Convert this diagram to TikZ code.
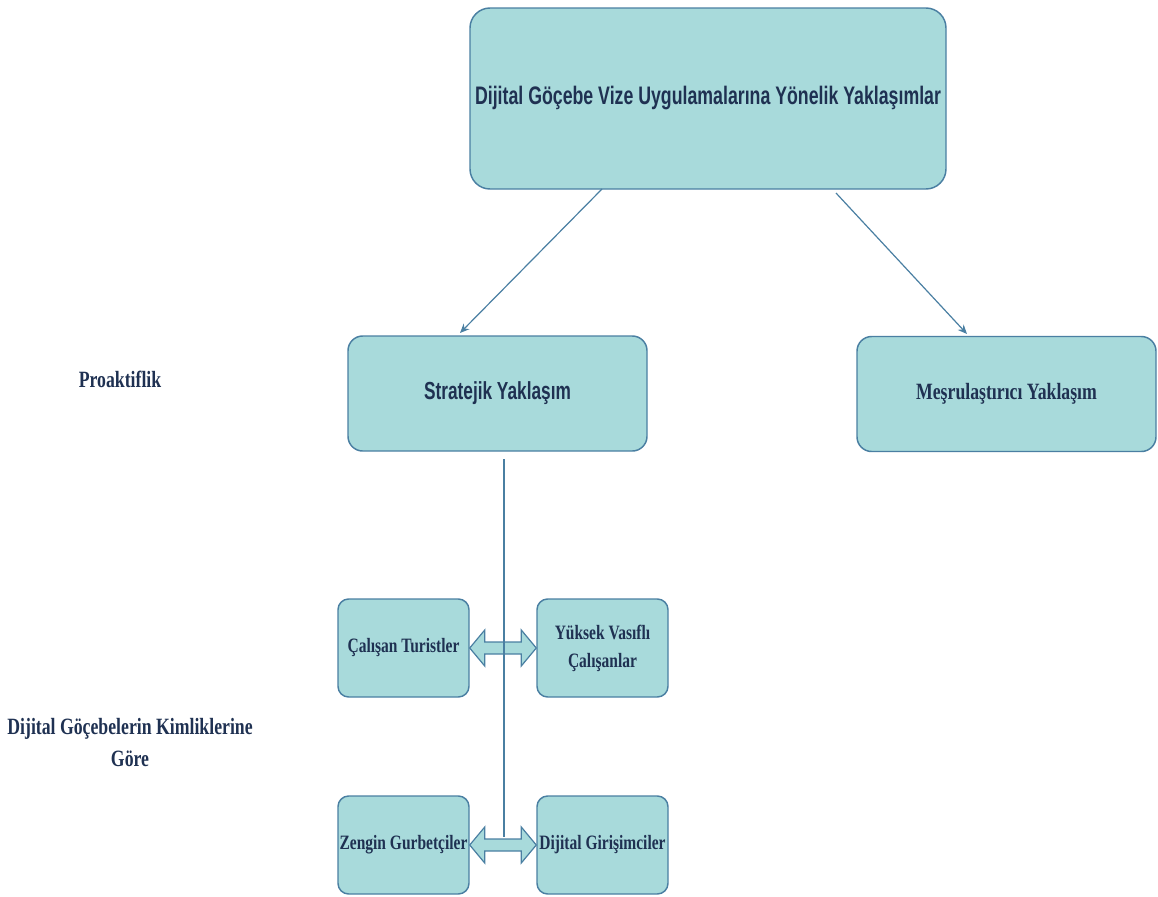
\documentclass[tikz,border=0pt]{standalone}
\usepackage{fontspec}
\usetikzlibrary{calc,arrows.meta}
\newfontfamily\narrowsans[FakeStretch=0.7]{Liberation Sans}
\newfontfamily\narrowserif[FakeStretch=0.76]{Liberation Serif}
\definecolor{boxfill}{HTML}{A8DADB}
\definecolor{boxline}{HTML}{4A7FA2}
\definecolor{txt}{HTML}{1F3152}
\tikzset{
  bigbox/.style={draw=boxline, line width=1.1pt, fill=boxfill, rounded corners=15pt, text=txt, align=center, inner sep=0pt},
  midbox/.style={draw=boxline, line width=1.1pt, fill=boxfill, rounded corners=11pt, text=txt, align=center, inner sep=0pt, minimum width=299*0.75pt, minimum height=115*0.75pt},
  smallbox/.style={draw=boxline, line width=1.1pt, fill=boxfill, rounded corners=8pt, text=txt, align=center, inner sep=0pt, minimum width=131*0.75pt, minimum height=98*0.75pt, font=\narrowserif\bfseries\fontsize{15.3}{21}\selectfont},
  label/.style={text=txt, align=center, font=\narrowserif\bfseries\fontsize{17.5}{24}\selectfont},
  conn/.style={draw=boxline, line width=0.9pt, -{Stealth[length=7pt,width=6pt]}},
  blockarrow/.style={draw=boxline, line width=0.9pt, fill=boxfill},
  vline/.style={draw=boxline, line width=1.4pt}
}
\begin{document}
\begin{tikzpicture}[x=0.75pt,y=-0.75pt]
\useasboundingbox (0,0) rectangle (1158,897);
\node[bigbox, minimum width=476*0.75pt, minimum height=181*0.75pt, font=\narrowsans\bfseries\fontsize{19}{23}\selectfont] (top) at (708,98.5) {Dijital Göçebe Vize Uygulamalarına Yönelik Yaklaşımlar};
\node[midbox, font=\narrowsans\bfseries\fontsize{18.5}{22}\selectfont] (strat) at (497.5,393.5) {Stratejik Yaklaşım};
\node[midbox, font=\narrowserif\bfseries\fontsize{17.5}{22}\selectfont] (mesru) at (1006.5,394) {Meşrulaştırıcı Yaklaşım};
\node[label] (proak) at (120,379) {Proaktiflik};
\node[label] (kim) at (130,743) {Dijital Göçebelerin Kimliklerine\\Göre};
\node[smallbox] (calt) at (403.5,648) {Çalışan Turistler};
\node[smallbox] (yuk) at (602.5,648) {Yüksek Vasıflı\\Çalışanlar};
\node[smallbox] (zen) at (403.5,845) {Zengin Gurbetçiler};
\node[smallbox] (dgir) at (602.5,845) {Dijital Girişimciler};
\coordinate (tl) at (602,189);
\coordinate (tr) at (836,193);
\draw[conn] (tl) -- (460,333) coordinate (sl);
\draw[conn] (tr) -- (967,334) coordinate (mr);
% block double arrows
\foreach \a/\b in {calt/yuk, zen/dgir}{
  \path[blockarrow] (\a.east) -- ($(\a.east)+(15,-18)$) -- ($(\a.east)+(15,-6)$) -- ($(\b.west)+(-15,-6)$) -- ($(\b.west)+(-15,-18)$) -- (\b.west) -- ($(\b.west)+(-15,18)$) -- ($(\b.west)+(-15,6)$) -- ($(\a.east)+(15,6)$) -- ($(\a.east)+(15,18)$) -- cycle;
}
\coordinate (vtop) at (504,459);
\coordinate (vbot) at (504,837);
\draw[vline] (vtop) -- (vbot);
\end{tikzpicture}
\end{document}
